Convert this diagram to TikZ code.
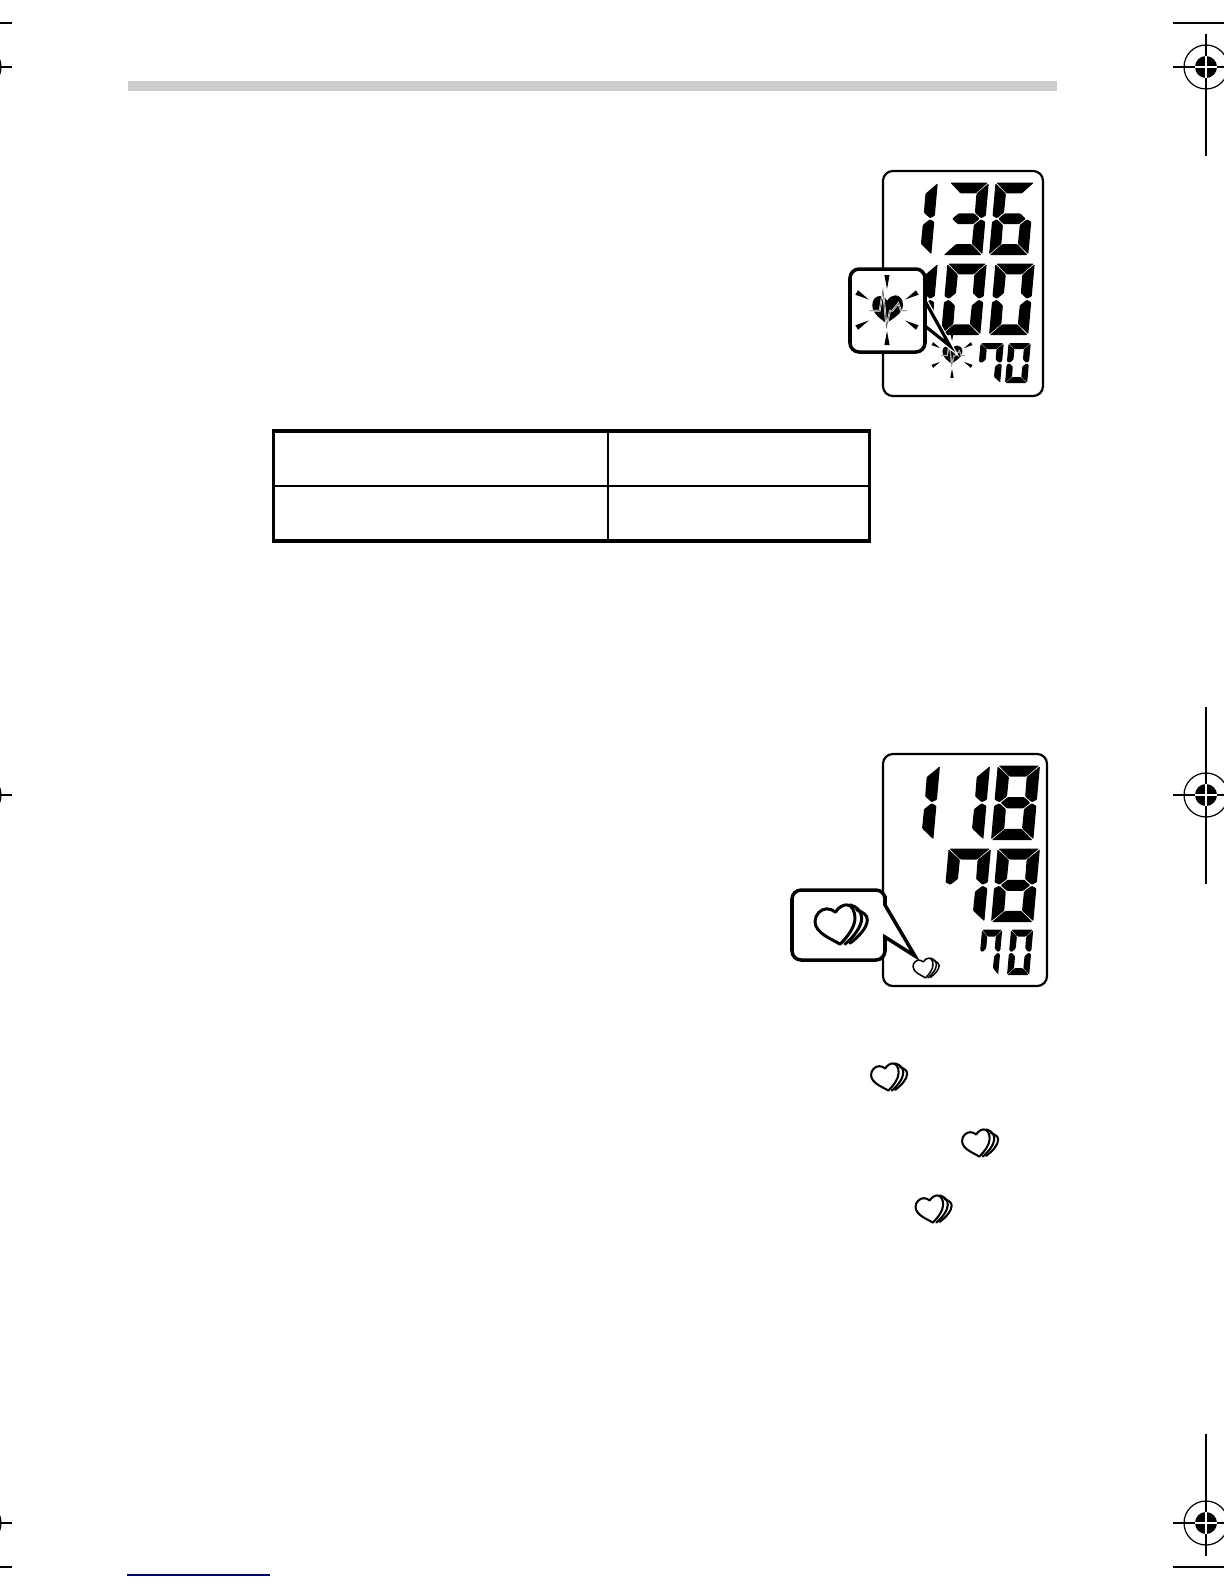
\documentclass[tikz,border=0pt]{standalone}
\usepackage{amsmath,amssymb}
\usepackage{tikz}

\tikzset{
  cropline/.style={black,line width=0.35pt},
  lcdbox/.style={draw=black,line width=0.62pt,rounded corners=2.8pt},
  callout/.style={draw=black,fill=white,line width=1pt,rounded corners=2.6pt},
  lcdseg/.style={fill=black,rounded corners=0.25pt}
}

% seven segments on a 10 by 20 grid
\def\sega{(0.2,20) -- (9.8,20) -- (6.95,17) -- (3.05,17)}
\def\segb{(10,19.8) -- (10,10.8) -- (8.8,10.15) -- (7.15,11.7) -- (7.1,16.9)}
\def\segc{(10,.2) -- (10,9.2) -- (8.8,9.85) -- (7.15,8.3) -- (7.1,3.1)}
\def\segd{(0.2,0) -- (9.8,0) -- (6.95,3) -- (3.05,3)}
\def\sege{(0,.2) -- (0,9.2) -- (1.2,9.85) -- (2.85,8.3) -- (2.9,3.1)}
\def\segf{(0,19.8) -- (0,10.8) -- (1.2,10.15) -- (2.85,11.7) -- (2.9,16.9)}
\def\segg{(1.5,10) -- (3.05,11.5) -- (6.95,11.5) -- (8.5,10) -- (6.95,8.5) -- (3.05,8.5)}

\newcommand{\lcddigit}[5]{% x, y of lower left, width, height, segments
  \begin{scope}[shift={(#1,#2)},x=#3*0.001cm,y=#4*0.0005cm,xslant=0.09]
    \foreach \s in {#5} {\fill[lcdseg] \csname seg\s\endcsname -- cycle;}
  \end{scope}}

\newcommand{\regmark}[4]{% centre x, y, reach up, reach down
  \draw[cropline] (#1,#2) circle (22);
  \fill[black] (#1,#2) circle (11);
  \draw[white,line width=0.35pt] (#1-11,#2) -- (#1+11,#2) (#1,#2-11) -- (#1,#2+11);
  \draw[cropline] (#1-33,#2) -- (#1-11,#2) (#1+11,#2) -- (#1+33,#2);
  \draw[cropline] (#1,#2-#3) -- (#1,#2-11) (#1,#2+11) -- (#1,#2+#4);}

\newcommand{\ecgheart}[3]{% centre x, y, scale
  \begin{scope}[shift={(#1,#2)},scale=#3]
    \foreach \a in {30,90,150,210,270,330}
      \fill[black,rotate=\a] (21,0) -- (35,-2.6) -- (35,2.6) -- cycle;
    \fill[black] (-.7,13.3) .. controls (-6,9) and (-14.7,4) .. (-14.7,-5)
      .. controls (-14.7,-10.5) and (-11,-14) .. (-7.3,-14)
      .. controls (-4,-14) and (-1,-12) .. (.3,-9.3)
      .. controls (2,-12.5) and (5,-14.7) .. (8.3,-14.7)
      .. controls (13,-14.7) and (16,-10.5) .. (16,-5)
      .. controls (16,4) and (5,9) .. (-.7,13.3) -- cycle;
    \draw[white,line width=#3*0.5pt] (-17.3,.7) -- (-7.3,.7) -- (-4,-20) -- (-.5,17) -- (3,.7)
      -- (5.5,.7) -- (11.3,-6.7) -- (14,.7) -- (20,.7);
    \draw[black!60,line width=#3*0.2pt] (-17.3,.7) -- (-7.3,.7) -- (-4,-20) -- (-.5,17) -- (3,.7)
      -- (5.5,.7) -- (11.3,-6.7) -- (14,.7) -- (20,.7);
  \end{scope}}

\newcommand{\heartstack}[3]{% centre x, y, scale
  \begin{scope}[shift={(#1,#2)},scale=#3,line width=#3*0.85pt,line cap=round,line join=round]
    \draw (9,-19.7) .. controls (16,-18) and (20.7,-13) .. (20.7,-6.3)
      .. controls (20.7,2) and (13,12) .. (4,19.7);
    \draw (15.7,-14.7) .. controls (22,-12) and (26.3,-10) .. (26.3,-4.7)
      .. controls (26.3,3) and (18,12) .. (9,18.7);
    \draw[fill=white] (-1,19.7) .. controls (-8,15) and (-26,9) .. (-26,-3)
      .. controls (-26,-10) and (-20,-15.7) .. (-14.3,-15.7)
      .. controls (-11,-15.7) and (-8,-14.5) .. (-5.5,-12.3)
      .. controls (-3,-17) and (2,-19.7) .. (5.7,-19.7)
      .. controls (11,-19.7) and (14,-13) .. (14,-6.3)
      .. controls (14,2) and (7,12) .. (-1,19.7) -- cycle;
  \end{scope}}

\begin{document}
\begin{tikzpicture}[x=0.01cm,y=-0.01cm]
  \path[use as bounding box,clip] (0,0) rectangle (1224,1584);
  \fill[white] (0,0) rectangle (1224,1584);

  % Crop marks
  \regmark{1206}{67}{33}{89}
  \regmark{1206}{795}{88}{89}
  \regmark{1206}{1523}{89}{33}
  \regmark{-21}{67}{33}{89}
  \regmark{-21}{795}{88}{89}
  \regmark{-21}{1523}{89}{33}
  \draw[cropline] (1173,23) -- (1224,23);
  \draw[cropline] (1173,1567) -- (1224,1567);
  \draw[cropline] (0,23) -- (12,23);
  \draw[cropline] (0,1567) -- (12,1567);

  % Header bar and footer rule
  \fill[black!20] (128,81) rectangle (1057,91);
  \draw[blue!50!black,line width=0.35pt] (127,1575) -- (270,1575);

  % Upper display
  \draw[lcdbox] (883,171) rectangle (1043,396);
  \lcddigit{892}{255}{39}{72}{b,c}
  \lcddigit{943}{255}{39}{72}{a,b,c,d,g}
  \lcddigit{989}{255}{39}{72}{a,c,d,e,f,g}
  \lcddigit{892}{335}{39}{71}{b,c}
  \lcddigit{941}{335}{39}{71}{a,b,c,d,e,f}
  \lcddigit{989}{335}{39}{71}{a,b,c,d,e,f}
  \lcddigit{977}{383}{23}{39.5}{a,b,c,f}
  \lcddigit{1005}{383}{22}{39.5}{a,b,c,d,e,f}
  \ecgheart{952}{355}{0.65}
  \fill[white,draw=white,line width=1.6pt] (925,301) -- (950,346) -- (925,326) -- cycle;
  \draw[black,line width=0.9pt] (925,301) -- (950,346) -- (925,326);
  \filldraw[callout] (850,269) rectangle (925,352);
  \ecgheart{887}{310}{1}

  % Table
  \draw[black,line width=1pt] (273.5,431) rectangle (869.5,541);
  \draw[black,line width=0.6pt] (273.5,486) -- (869.5,486);
  \draw[black,line width=0.6pt] (608,431) -- (608,541);

  % Lower display
  \draw[lcdbox] (883,754) rectangle (1047,986);
  \lcddigit{891}{840}{42}{74}{b,c}
  \lcddigit{941}{840}{42}{74}{b,c}
  \lcddigit{991}{840}{42}{74}{a,b,c,d,e,f,g}
  \lcddigit{942}{922}{42}{73}{a,b,c,f}
  \lcddigit{991}{922}{42}{73}{a,b,c,d,e,f,g}
  \lcddigit{978}{975}{20}{45}{a,b,c,f}
  \lcddigit{1007}{975}{22}{45}{a,b,c,d,e,f}
  \heartstack{926}{968}{0.5}
  \draw[callout,sharp corners] (885,905) -- (915,956) -- (885,937) [rounded corners=2.6pt]
    -- (885,960) -- (792,960) -- (792,890) -- (885,890) -- (885,905) [sharp corners] -- cycle;
  \heartstack{841}{924.5}{1}

  % Hearts in the running text
  \heartstack{889}{1077}{0.69}
  \heartstack{980}{1143}{0.69}
  \heartstack{933.5}{1209}{0.69}
\end{tikzpicture}
\end{document}
